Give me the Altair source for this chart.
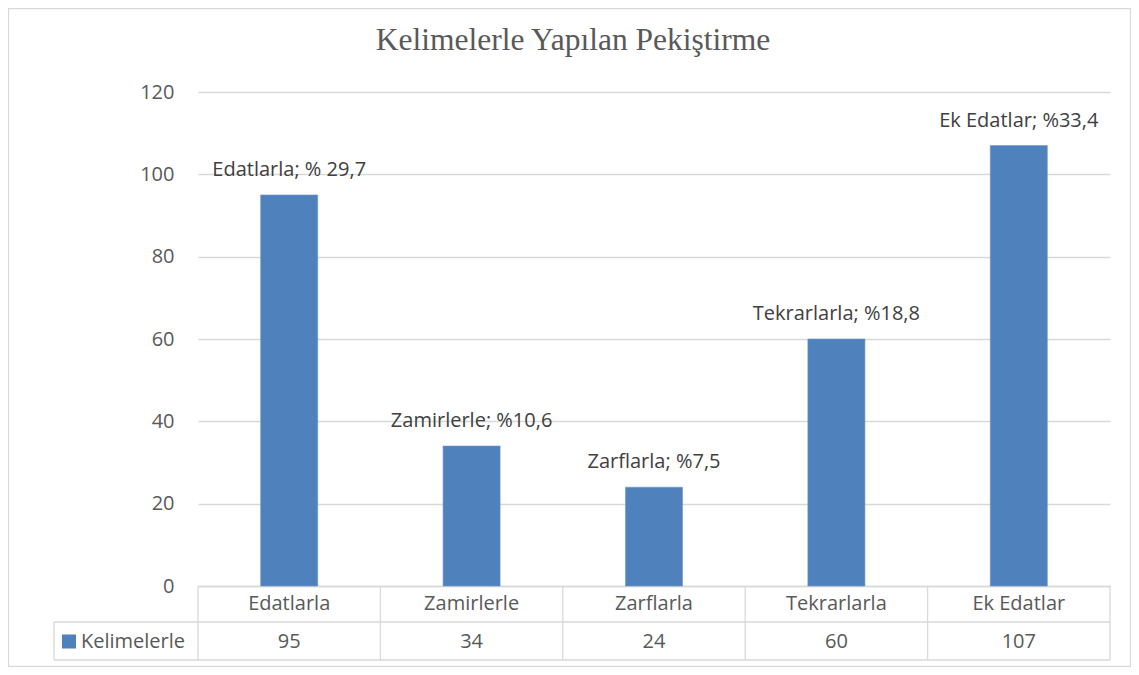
import altair as alt
import pandas as pd

categories = ["Edatlarla", "Zamirlerle", "Zarflarla", "Tekrarlarla", "Ek Edatlar"]
values = [95, 34, 24, 60, 107]
bar_labels = ["Edatlarla; % 29,7", "Zamirlerle; %10,6", "Zarflarla; %7,5",
              "Tekrarlarla; %18,8", "Ek Edatlar; %33,4"]
series_name = "Kelimelerle"
title_text = "Kelimelerle Yapılan Pekiştirme"
y_ticks = [0, 20, 40, 60, 80, 100, 120]

BLUE = "#4F81BD"
GRID = "#D9D9D9"
TXT = "#595959"
FONT = "Open Sans"
FS = 20

W, H = 912, 494

df = pd.DataFrame({"cat": categories, "val": values, "label": bar_labels,
                   "pos": [i + 0.5 for i in range(len(categories))]})
bounds = pd.DataFrame({"b": list(range(len(categories) + 1))})
legend_df = pd.DataFrame({"name": [series_name]})
title_df = pd.DataFrame({"t": [title_text]})

band_scale = alt.Scale(paddingInner=0.687, paddingOuter=0.3435)
xband = alt.X("cat:N", sort=categories, scale=band_scale,
              axis=alt.Axis(title=None, orient="bottom", ticks=False, domain=True,
                            domainColor=GRID, domainWidth=1.3, labelAngle=0,
                            labelFont=FONT, labelFontSize=FS, labelColor=TXT,
                            labelBaseline="middle", labelPadding=17, grid=False))
yq = alt.Y("val:Q", scale=alt.Scale(domain=[0, 120], nice=False),
           axis=alt.Axis(title=None, values=y_ticks, ticks=False, domain=False,
                         grid=True, gridColor=GRID, gridWidth=1.3,
                         labelFont=FONT, labelFontSize=FS, labelColor=TXT,
                         labelPadding=24))

bars = alt.Chart(df).mark_bar(color=BLUE, stroke="#6F99CC", strokeWidth=0.6).encode(x=xband, y=yq)

labels = alt.Chart(df).mark_text(font=FONT, fontSize=FS, color="#404040",
                                 baseline="alphabetic", dy=-19).encode(
    x=alt.X("cat:N", sort=categories, scale=band_scale, axis=None), y="val:Q", text="label:N")

# table (independent linear x scale spanning the plot width)
xlin = alt.Scale(domain=[0, len(categories)], nice=False, zero=False)

vlines = alt.Chart(bounds).mark_rule(color=GRID, strokeWidth=1.3).encode(
    x=alt.X("b:Q", scale=xlin, axis=None), y=alt.value(H), y2=alt.value(H + 74))

hline1 = alt.Chart(legend_df).mark_rule(color=GRID, strokeWidth=1.3).encode(
    x=alt.value(-144), x2=alt.value(W), y=alt.value(H + 36))
hline2 = alt.Chart(legend_df).mark_rule(color=GRID, strokeWidth=1.3).encode(
    x=alt.value(-144), x2=alt.value(W), y=alt.value(H + 74))
lline = alt.Chart(legend_df).mark_rule(color=GRID, strokeWidth=1.3).encode(
    x=alt.value(-144), y=alt.value(H + 36), y2=alt.value(H + 74))

vals_text = alt.Chart(df).mark_text(font=FONT, fontSize=FS, color=TXT, baseline="middle").encode(
    x=alt.X("pos:Q", scale=xlin, axis=None), y=alt.value(H + 56), text="val:Q")

leg_sq = alt.Chart(legend_df).mark_square(size=196, color=BLUE, opacity=1).encode(
    x=alt.value(-129), y=alt.value(H + 55.5))
leg_txt = alt.Chart(legend_df).mark_text(font=FONT, fontSize=FS, color=TXT, align="left",
                                         baseline="middle").encode(
    x=alt.value(-117), y=alt.value(H + 56), text="name:N")

border = alt.Chart(legend_df).mark_rect(fill=None, stroke=GRID, strokeWidth=1.3).encode(
    x=alt.value(-189.5), x2=alt.value(W + 20.5), y=alt.value(-83.5), y2=alt.value(H + 80.5))

title = alt.Chart(title_df).mark_text(font="Liberation Serif", fontSize=31.5, color=TXT,
                                      baseline="alphabetic", align="center").encode(
    x=alt.value(375), y=alt.value(-42), text="t:N")

chart = alt.layer(border, bars, labels, vlines, hline1, hline2, lline, vals_text, leg_sq, leg_txt,
                  title).resolve_scale(x="independent").properties(
    width=W, height=H,
    autosize=alt.AutoSizeParams(type="none"),
    padding={"left": 190, "top": 84, "right": 21, "bottom": 81},
).configure_view(stroke=None)

chart.save("out.html", embed_options={"renderer": "svg", "actions": False})
